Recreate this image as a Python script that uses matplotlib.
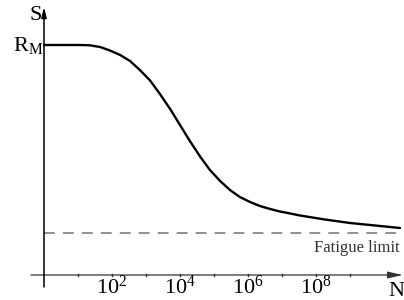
import matplotlib
matplotlib.use("Agg")
import matplotlib.pyplot as plt
import numpy as np

plt.rcParams['font.family'] = ['Liberation Serif', 'DejaVu Serif']
plt.rcParams['mathtext.fontset'] = 'custom'
plt.rcParams['mathtext.rm'] = 'Liberation Serif'
plt.rcParams['mathtext.it'] = 'Liberation Serif'

# S-N curve (exponent of N, stress)
log_n = [0, 1.06, 1.35, 1.65, 1.94, 2.24, 2.53, 2.82, 3.12, 3.41, 3.71, 4.0,
         4.29, 4.59, 4.88, 5.18, 5.47, 5.76, 6.06, 6.35, 6.65, 6.94, 7.24,
         7.53, 8.26, 9.0, 9.74, 10.47]
stress = [230, 230, 229.7, 228, 224.5, 220, 214, 205, 194.5, 181, 166, 150,
          134, 118.5, 105, 94, 85, 78, 73, 69, 66, 63.5, 61.5,
          59.5, 55.5, 52, 49.5, 47]
r_m = 230
fatigue_limit = 42
tick_exps = [1, 2, 3, 4, 5, 6, 7, 8, 9]
label_exps = [2, 4, 6, 8]

fig = plt.figure(figsize=(4.04, 3.0), dpi=100)
ax = fig.add_axes([0, 0, 1, 1])
ax.set_xscale('log')
ax.set_xlim(10 ** (-44 / 34), 10 ** (360 / 34))
ax.set_ylim(-25, 275)
ax.axis('off')

n = 10 ** np.array(log_n)
ax.plot(n, stress, color='black', lw=1.7, solid_capstyle='round',
        solid_joinstyle='round')

# fatigue limit
ax.plot([1, 10 ** 10.47], [fatigue_limit, fatigue_limit], color='#888888',
        lw=1.3, dashes=(6, 4.5))
ax.text(10 ** 10.45, fatigue_limit - 15, 'Fatigue limit', ha='right', va='center',
        fontsize=12, color='#333333')

# axes with arrows
ax.annotate('', xy=(10 ** (403 / 34 - 44 / 34), 0), xytext=(10 ** (-13 / 34), 0),
            arrowprops=dict(arrowstyle='-|>,head_length=0.9,head_width=0.2',
                            color='#333333', lw=0.9, shrinkA=0, shrinkB=0))
ax.annotate('', xy=(1, 268), xytext=(1, -12),
            arrowprops=dict(arrowstyle='-|>,head_length=0.6,head_width=0.15',
                            color='black', lw=1.1, shrinkA=0, shrinkB=0))

# ticks
for e in tick_exps:
    ax.plot([10 ** e, 10 ** e], [-0.5, 1.5], color='#333333', lw=1)
for e in label_exps:
    ax.text(10 ** e, -12, r'$\mathregular{10^{%d}}$' % e, ha='center', va='center',
            fontsize=16)

ax.text(10 ** ((396 - 44) / 34), -17, 'N', ha='center', va='center', fontsize=16)
ax.text(10 ** ((36 - 44) / 34), 259, 'S', ha='center', va='center', fontsize=16)
ax.text(10 ** ((28 - 44) / 34), r_m, r'$\mathregular{R_M}$', ha='center', va='center',
        fontsize=16)

fig.savefig('out.png', dpi=100)
